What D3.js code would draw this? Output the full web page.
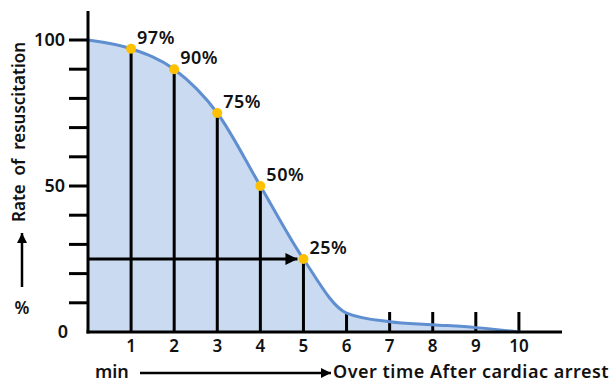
<!DOCTYPE html>
<html>
<head>
<meta charset="utf-8">
<script src="https://cdn.jsdelivr.net/npm/d3@7"></script>
<style>
  body { margin: 0; background: #fff; }
  text { font-family: "Noto Sans", sans-serif; font-weight: 600; fill: #111; }
</style>
</head>
<body>
<div id="chart"></div>
<script>
// data
const minutes = [0, 1, 2, 3, 4, 5, 6, 7, 8, 9, 10];
const rates = [100, 97, 90, 75, 50, 25, 6.5, 3.5, 2.5, 1.5, 0];
const marked = [1, 2, 3, 4, 5];        // minutes with a dot, drop line and label
const markedLabels = ['97%', '90%', '75%', '50%', '25%'];
const yTicks = [0, 10, 20, 30, 40, 50, 60, 70, 80, 90, 100];
const yTickLabels = [0, 50, 100];
const xTicks = [1, 2, 3, 4, 5, 6, 7, 8, 9, 10];

const width = 613, height = 383;
const svg = d3.select('#chart').append('svg')
    .attr('width', width).attr('height', height);

const x = d3.scaleLinear().domain([0, 11]).range([88, 562]);
const y = d3.scaleLinear().domain([0, 100]).range([332, 40]);

const pts = minutes.map((m, i) => [m, rates[i]]);
const curve = d3.curveMonotoneX;

// shaded area under the curve
svg.append('path')
    .datum(pts)
    .attr('fill', '#c9daf1')
    .attr('d', d3.area().x(d => x(d[0])).y0(y(0)).y1(d => y(d[1])).curve(curve));

// arrow marker
svg.append('defs').append('marker')
    .attr('id', 'head')
    .attr('viewBox', '0 0 10 10')
    .attr('refX', 10).attr('refY', 5)
    .attr('markerWidth', 4).attr('markerHeight', 4)
    .attr('orient', 'auto')
  .append('path')
    .attr('d', 'M0,0L10,5L0,10Z')
    .attr('fill', '#000');

// drop lines from marked points
const rateAt = m => rates[minutes.indexOf(m)];
svg.selectAll('line.drop')
  .data(marked)
  .join('line')
    .attr('x1', d => x(d)).attr('x2', d => x(d))
    .attr('y1', d => y(rateAt(d))).attr('y2', y(0))
    .attr('stroke', '#000').attr('stroke-width', 3);

// short ticks on the x axis for later minutes
svg.selectAll('line.xtick')
  .data(xTicks.filter(d => !marked.includes(d)))
  .join('line')
    .attr('x1', d => x(d)).attr('x2', d => x(d))
    .attr('y1', y(0) - 20).attr('y2', y(0))
    .attr('stroke', '#000').attr('stroke-width', 3);

// horizontal arrow at 25%
svg.append('line')
    .attr('x1', x(0)).attr('x2', x(5) - 6)
    .attr('y1', y(25)).attr('y2', y(25))
    .attr('stroke', '#000').attr('stroke-width', 3)
    .attr('marker-end', 'url(#head)');

// curve
svg.append('path')
    .datum(pts)
    .attr('fill', 'none')
    .attr('stroke', '#5f8fd0')
    .attr('stroke-width', 3)
    .attr('d', d3.line().x(d => x(d[0])).y(d => y(d[1])).curve(curve));

// y axis
svg.append('line')
    .attr('x1', x(0)).attr('x2', x(0))
    .attr('y1', 11).attr('y2', y(0) + 1.5)
    .attr('stroke', '#000').attr('stroke-width', 3);
svg.selectAll('line.ytick')
  .data(yTicks.filter(d => d > 0))
  .join('line')
    .attr('x1', x(0) - 19).attr('x2', x(0))
    .attr('y1', d => y(d)).attr('y2', d => y(d))
    .attr('stroke', '#000').attr('stroke-width', 3);
svg.selectAll('text.ylab')
  .data(yTickLabels)
  .join('text')
    .attr('x', d => d === 0 ? 68 : 65)
    .attr('y', d => y(d))
    .attr('dy', '0.36em')
    .attr('text-anchor', 'end')
    .attr('font-size', 18)
    .text(d => d);

// x axis
svg.append('line')
    .attr('x1', x(0) - 1.5).attr('x2', x(11))
    .attr('y1', y(0)).attr('y2', y(0))
    .attr('stroke', '#000').attr('stroke-width', 3);
svg.selectAll('text.xlab')
  .data(xTicks)
  .join('text')
    .attr('x', d => x(d))
    .attr('y', 346)
    .attr('dy', '0.36em')
    .attr('text-anchor', 'middle')
    .attr('font-size', 17)
    .text(d => d);

// dots and labels
svg.selectAll('circle.pt')
  .data(marked)
  .join('circle')
    .attr('cx', d => x(d)).attr('cy', d => y(rateAt(d)))
    .attr('r', 5)
    .attr('fill', '#ffc000');
svg.selectAll('text.pct')
  .data(marked)
  .join('text')
    .attr('x', d => x(d) + 6)
    .attr('y', d => y(rateAt(d)) - 5)
    .attr('font-size', 18)
    .attr('letter-spacing', 0.5)
    .text((d, i) => markedLabels[i]);

// x title
svg.append('text')
    .attr('x', 95).attr('y', 372).attr('dy', '0.36em')
    .attr('font-size', 18)
    .text('min');
svg.append('line')
    .attr('x1', 140).attr('x2', 331)
    .attr('y1', 373).attr('y2', 373)
    .attr('stroke', '#000').attr('stroke-width', 2.5)
    .attr('marker-end', 'url(#head)');
svg.append('text')
    .attr('x', 333).attr('y', 372).attr('dy', '0.36em')
    .attr('font-size', 18)
    .attr('letter-spacing', 0.5)
    .text('Over time After cardiac arrest');

// y title
svg.append('text')
    .attr('transform', 'translate(19,222) rotate(-90)')
    .attr('dy', '0.36em')
    .attr('font-size', 17)
    .attr('xml:space', 'preserve')
    .text('Rate  of  resuscitation');
svg.append('line')
    .attr('x1', 22).attr('x2', 22)
    .attr('y1', 287).attr('y2', 233)
    .attr('stroke', '#000').attr('stroke-width', 2.5)
    .attr('marker-end', 'url(#head)');
svg.append('text')
    .attr('x', 22).attr('y', 308).attr('dy', '0.36em')
    .attr('text-anchor', 'middle')
    .attr('font-size', 17)
    .text('%');
</script>
</body>
</html>
